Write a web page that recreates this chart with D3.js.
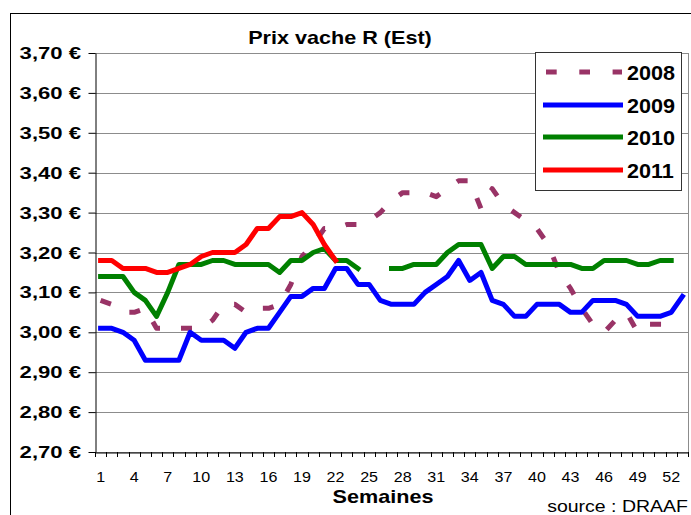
<!DOCTYPE html>
<html><head><meta charset="utf-8">
<script src="https://cdn.jsdelivr.net/npm/d3@7"></script>
<style>body{margin:0;background:#fff}svg{display:block}</style>
</head><body><svg id="c" width="691" height="515"></svg>
<script>
// ---- data ----
const weeks = d3.range(1, 54);
const xTickWeeks = [1,4,7,10,13,16,19,22,25,28,31,34,37,40,43,46,49,52];
const yTicks = [2.7,2.8,2.9,3.0,3.1,3.2,3.3,3.4,3.5,3.6,3.7];
const yTickLabels = ["2,70 €","2,80 €","2,90 €","3,00 €","3,10 €","3,20 €","3,30 €","3,40 €","3,50 €","3,60 €","3,70 €"];
const s2008 = [3.08,3.07,3.05,3.05,3.06,3.01,3.01,3.01,3.01,3.01,
               3.03,3.07,3.07,3.05,3.06,3.06,3.07,3.12,3.19,3.22,
               3.26,3.26,3.27,3.27,3.28,3.30,3.33,3.35,3.35,3.35,
               3.34,3.36,3.38,3.38,3.31,3.36,3.32,3.30,3.28,3.26,
               3.22,3.15,3.11,3.06,3.02,3.00,3.03,3.05,3.00,3.02,
               3.02,3.02,null];
const s2009 = [3.01,3.01,3.00,2.98,2.93,2.93,2.93,2.93,3.00,2.98,
               2.98,2.98,2.96,3.00,3.01,3.01,3.05,3.09,3.09,3.11,
               3.11,3.16,3.16,3.12,3.12,3.08,3.07,3.07,3.07,3.10,
               3.12,3.14,3.18,3.13,3.15,3.08,3.07,3.04,3.04,3.07,
               3.07,3.07,3.05,3.05,3.08,3.08,3.08,3.07,3.04,3.04,
               3.04,3.05,3.09];
const s2010 = [3.14,3.14,3.14,3.10,3.08,3.04,3.10,3.17,3.17,3.17,
               3.18,3.18,3.17,3.17,3.17,3.17,3.15,3.18,3.18,3.20,
               3.21,3.18,3.18,3.16,null,null,3.16,3.16,3.17,3.17,
               3.17,3.20,3.22,3.22,3.22,3.16,3.19,3.19,3.17,3.17,
               3.17,3.17,3.17,3.16,3.16,3.18,3.18,3.18,3.17,3.17,
               3.18,3.18,null];
const s2011 = [3.18,3.18,3.16,3.16,3.16,3.15,3.15,3.16,3.17,3.19,
               3.20,3.20,3.20,3.22,3.26,3.26,3.29,3.29,3.30,3.27,
               3.22,3.18];
const seriesNames = ["2008","2009","2010","2011"];
const seriesColors = ["#993366","#0000FF","#008000","#FF0000"];
const seriesValues = [s2008, s2009, s2010, s2011];
const seriesDash = [true, false, false, false];

// ---- layout ----
const L = 95, R = 688, T = 53, B = 452;
const FONT = "'Liberation Sans', Arial, sans-serif";
const svg = d3.select("#c");

const x = d3.scaleBand().domain(weeks).range([L, R]);
const y = d3.scaleLinear().domain([2.7, 3.7]).range([B, T]);
const cx = w => x(w) + x.bandwidth() / 2;

function txt(g, px, py, s, size, weight, anchor, sx) {
  return g.append("text")
    .attr("transform", `translate(${px},${py}) scale(${sx},1)`)
    .attr("text-anchor", anchor)
    .style("font-family", FONT).style("font-size", size + "px")
    .style("font-weight", weight).attr("fill", "#000").text(s);
}

// outer border
svg.append("rect").attr("x", 10.5).attr("y", 13.5).attr("width", 720).attr("height", 540)
  .attr("fill", "none").attr("stroke", "#000").attr("stroke-width", 1);

// gridlines
svg.append("g").selectAll("line").data(yTicks).join("line")
  .attr("x1", L).attr("x2", R)
  .attr("y1", d => Math.round(y(d)) + 0.5).attr("y2", d => Math.round(y(d)) + 0.5)
  .attr("stroke", "#8c8c8c").attr("stroke-width", 1);
// plot right border
svg.append("line").attr("x1", R + 0.5).attr("x2", R + 0.5).attr("y1", T).attr("y2", B)
  .attr("stroke", "#8c8c8c");

// y axis
const yAxis = svg.append("g").attr("transform", `translate(${L + 0.5},0)`)
  .call(d3.axisLeft(y).tickValues(yTicks).tickFormat((d, i) => yTickLabels[i]).tickSize(7).tickSizeOuter(0));
yAxis.select(".domain").attr("stroke", "#000");
yAxis.selectAll(".tick line").attr("stroke", "#000");
yAxis.selectAll(".tick text").remove();
yTicks.forEach((d, i) => txt(svg, 81, y(d) + 6, yTickLabels[i], 17, "bold", "end", 1.3));

// x axis
const xAxis = svg.append("g").attr("transform", `translate(0,${B + 0.5})`)
  .call(d3.axisBottom(x).tickValues(xTickWeeks).tickSize(0).tickSizeOuter(0));
xAxis.select(".domain").attr("stroke", "#000");
xAxis.selectAll(".tick text").remove();
// boundary ticks between categories
svg.append("g").selectAll("line").data(weeks.concat([54])).join("line")
  .attr("x1", d => Math.round(d === 54 ? x.range()[1] : x(d)) + 0.5)
  .attr("x2", d => Math.round(d === 54 ? x.range()[1] : x(d)) + 0.5)
  .attr("y1", B).attr("y2", B + 5).attr("stroke", "#000");
xTickWeeks.forEach(w => txt(svg, cx(w), 482, String(w), 14, "normal", "middle", 1.15));

// titles
txt(svg, 340, 44, "Prix vache R (Est)", 18, "bold", "middle", 1.2);
txt(svg, 383, 503, "Semaines", 18, "bold", "middle", 1.2);
txt(svg, 688, 512, "source : DRAAF", 16, "normal", "end", 1.22);

// series
const line = d3.line().defined(d => d != null).x((d, i) => cx(weeks[i])).y(d => y(d));
const clip = svg.append("clipPath").attr("id", "pc").append("rect")
  .attr("x", L).attr("y", T - 5).attr("width", R - L + 3).attr("height", B - T + 5);
seriesValues.forEach((vals, k) => {
  svg.append("path").datum(vals)
    .attr("d", line)
    .attr("fill", "none")
    .attr("stroke", seriesColors[k])
    .attr("stroke-width", 5)
    .attr("stroke-linejoin", "round")
    .attr("stroke-linecap", seriesDash[k] ? "butt" : "square")
    .attr("stroke-dasharray", seriesDash[k] ? "11,21" : null);
});

// legend
const lg = svg.append("g");
lg.append("rect").attr("x", 535.5).attr("y", 52.5).attr("width", 146).attr("height", 138)
  .attr("fill", "#fff").attr("stroke", "#333").attr("stroke-width", 1);
const legY = [72, 105, 137, 170];
seriesNames.forEach((n, k) => {
  lg.append("line")
    .attr("x1", seriesDash[k] ? 546 : 543).attr("x2", seriesDash[k] ? 622 : 623)
    .attr("y1", legY[k]).attr("y2", legY[k])
    .attr("stroke", seriesColors[k]).attr("stroke-width", 5)
    .attr("stroke-dasharray", seriesDash[k] ? "10.7,22.6" : null);
  txt(lg, 627, legY[k] + 8, n, 20, "bold", "start", 1.08);
});
</script></body></html>
